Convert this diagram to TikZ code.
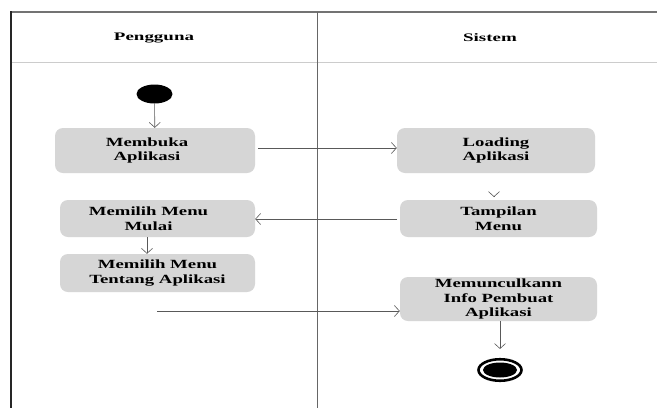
\documentclass[tikz,border=0pt]{standalone}
\usepackage{fontspec}
\usepackage{graphicx}
\setmainfont{Liberation Serif}
\usetikzlibrary{arrows.meta,shapes.geometric}
% wide lettering used throughout the diagram
\newcommand{\widetxt}[1]{\scalebox{1.5}[1]{#1}}
\newcommand{\widehead}[1]{\scalebox{1.65}[1]{#1}}
\begin{document}
\begin{tikzpicture}[x=1pt,y=-1pt,
  act/.style={rounded corners=8pt, fill=gray!32, draw=none, align=center,
    font=\bfseries\fontsize{12.5}{14.5}\selectfont, inner sep=0pt},
  flow/.style={draw=black!65, line width=0.6pt,
    -{Straight Barb[length=5pt,width=11pt,line width=0.6pt]}},
  lane/.style={font=\bfseries\fontsize{11.5}{13}\selectfont}]
\useasboundingbox (0,0) rectangle (657,408);
\fill[white] (0,0) rectangle (657,408);

% swimlane frame
\draw[black!55, line width=1.4pt] (11,12) -- (657,12);
\draw[black!85, line width=2.6pt] (11,11.3) -- (11,408);
\draw[black!20, line width=1pt] (12,62) -- (657,62);
\draw[black!60, line width=0.6pt] (317,12) -- (317,408);
\node[lane] (l1) at (154,38) {\widehead{Pengguna}};
\node[lane] (l2) at (490,38) {\widehead{Sistem}};

% start node
\node[ellipse, fill=black, minimum width=36pt, minimum height=19pt, inner sep=0pt] (start) at (154.5,94) {};
% activities
\node[act, minimum width=200pt, minimum height=45pt] (a1) at (155,150.5) {\widetxt{Membuka}\hspace*{16pt}\\\widetxt{Aplikasi}\hspace*{16pt}};
\node[act, minimum width=198pt, minimum height=45pt] (a2) at (496,150.5) {\widetxt{Loading}\\\widetxt{Aplikasi}};
\node[act, minimum width=197pt, minimum height=37pt] (a3) at (498.5,218.5) {\widetxt{Tampilan}\\\widetxt{Menu}};
\node[act, minimum width=195pt, minimum height=37pt] (a4) at (157.5,218.5) {\widetxt{Memilih Menu}\hspace*{18pt}\\\widetxt{Mulai}\hspace*{18pt}};
\node[act, minimum width=195pt, minimum height=38pt] (a5) at (157.5,273) {\widetxt{Memilih Menu}\\\widetxt{Tentang Aplikasi}};
\node[act, minimum width=197pt, minimum height=44pt] (a6) at (498.5,299) {\widetxt{Memunculkann}\\\widetxt{Info Pembuat}\\\widetxt{Aplikasi}};
% end node
\node[ellipse, draw=black, line width=2.6pt, fill=white, minimum width=43pt, minimum height=21.5pt, inner sep=0pt] (end) at (500,370) {};
\fill[black] (end.center) ellipse (17pt and 7.5pt);

% flows
\draw[flow] (start) -- (a1);
\coordinate (p1) at (258,148);
\draw[flow] (p1) -- (p1 -| a2.west);
\coordinate (t3) at (494,197);
\draw[flow] ([yshift=1pt]t3) -- (t3);
\coordinate (p3) at (397,219);
\draw[flow] (p3) -- (p3 -| a4.east);
\draw[flow] (a4.south -| 147,0) -- (a5.north -| 147,0);
\coordinate (s5) at (157,311);
\draw[flow] (s5) -- (s5 -| a6.west);
\draw[flow, shorten >=9pt] (a6.south -| end) -- (end.north);
\end{tikzpicture}
\end{document}
